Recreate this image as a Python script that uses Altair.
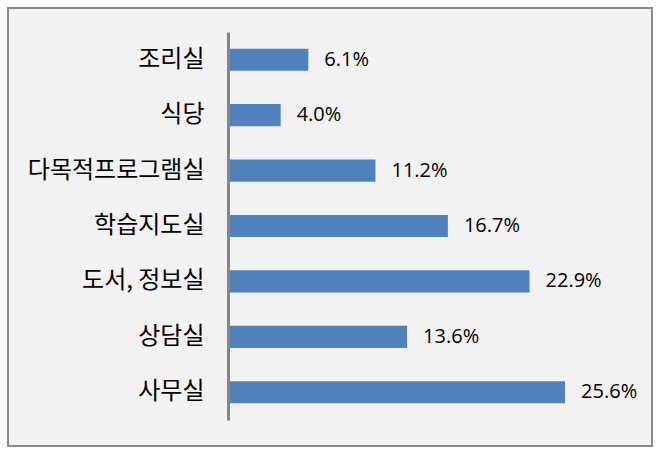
import altair as alt
import pandas as pd

categories = ["조리실", "식당", "다목적프로그램실", "학습지도실", "도서, 정보실", "상담실", "사무실"]
values = [6.1, 4.0, 11.2, 16.7, 22.9, 13.6, 25.6]
labels = ["6.1%", "4.0%", "11.2%", "16.7%", "22.9%", "13.6%", "25.6%"]

df = pd.DataFrame({"cat": categories, "val": values, "lab": labels})

W, H = 395, 388
PL, PT = 228, 32

frame = alt.Chart(pd.DataFrame({"a": [0]})).mark_rect(
    fill="#F2F2F2", stroke="#898989", strokeWidth=2
).encode(
    x=alt.value(8 - PL), x2=alt.value(652 - PL),
    y=alt.value(8 - PT), y2=alt.value(446 - PT),
)

axis = alt.Axis(domainColor="#878787", domainWidth=3, ticks=False,
                labelFontSize=24, labelColor="#000000",
                labelFont="Noto Sans CJK KR", labelPadding=24,
                labelFontWeight="normal", zindex=1)
y_enc = alt.Y("cat:N", sort=categories, title=None,
              scale=alt.Scale(paddingInner=0.6, paddingOuter=0.3),
              axis=axis)
x_enc = alt.X("val:Q", scale=alt.Scale(domain=[0, 30]), axis=None)

bars = alt.Chart(df).mark_bar(color="#4F81BD").encode(x=x_enc, y=y_enc)
text = alt.Chart(df).mark_text(align="left", dx=16, fontSize=20,
                               font="Open Sans", color="#000000").encode(
    x=x_enc, y=y_enc, text="lab:N")

chart = alt.layer(frame, bars, text).properties(
    width=W, height=H,
    autosize=alt.AutoSizeParams(type="none"),
    padding={"left": PL, "top": PT, "right": 662 - PL - W, "bottom": 457 - PT - H},
    background="#FFFFFF",
).configure_view(stroke=None)

chart.save("out.html", embed_options={"renderer": "svg", "actions": False})
